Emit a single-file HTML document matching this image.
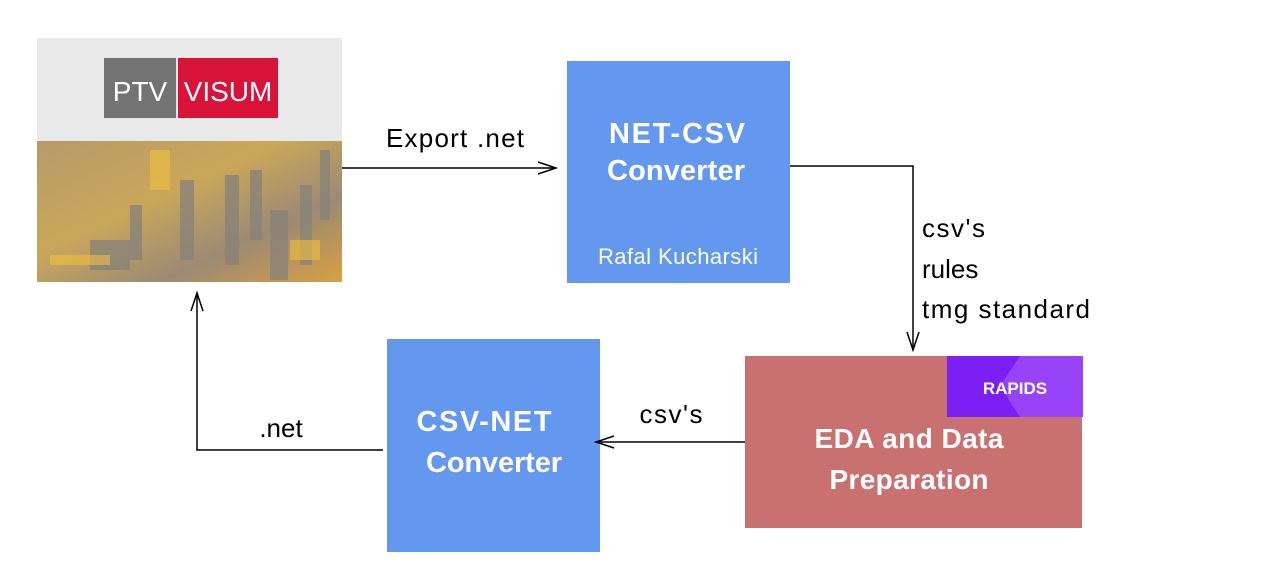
<!DOCTYPE html>
<html><head><style>
html,body{margin:0;padding:0;background:#fff;}
svg{display:block;}
text{font-family:"Liberation Sans",sans-serif;}
</style></head><body>
<svg width="1280" height="584" viewBox="0 0 1280 584" xmlns="http://www.w3.org/2000/svg">
<defs>
<linearGradient id="city" x1="0" y1="0" x2="1" y2="1">
<stop offset="0" stop-color="#b89a6a"/><stop offset="0.4" stop-color="#c9a75a"/><stop offset="0.7" stop-color="#9c8a74"/><stop offset="1" stop-color="#d8a040"/>
</linearGradient>
</defs>
<rect x="37" y="38" width="305" height="103" fill="#e9e9e9"/>
<rect x="104" y="58" width="72" height="60" fill="#737373"/>
<rect x="178" y="58" width="100" height="60" fill="#d9123a"/>
<text x="140" y="101" font-size="28" fill="#fff" text-anchor="middle">PTV</text>
<text x="228" y="101" font-size="28" fill="#fff" text-anchor="middle">VISUM</text>
<rect x="37" y="141" width="305" height="141" fill="url(#city)"/>
<g fill="#8a8378" opacity="0.8">
<rect x="180" y="180" width="14" height="80"/><rect x="225" y="175" width="14" height="90"/><rect x="250" y="170" width="12" height="70"/>
<rect x="270" y="210" width="18" height="70"/><rect x="300" y="185" width="12" height="80"/><rect x="320" y="150" width="10" height="70"/>
<rect x="130" y="205" width="12" height="55"/><rect x="90" y="240" width="40" height="30"/>
</g>
<g fill="#f0c040" opacity="0.6">
<rect x="50" y="255" width="60" height="10"/><rect x="150" y="150" width="20" height="40"/><rect x="290" y="240" width="30" height="20"/>
</g>
<rect x="567" y="61" width="223" height="222" fill="#6497ee"/>
<text x="677" y="143" font-size="29" font-weight="bold" fill="#fff" text-anchor="middle" textLength="136">NET-CSV</text>
<text x="676" y="180" font-size="29" font-weight="bold" fill="#fff" text-anchor="middle" textLength="138">Converter</text>
<text x="678" y="264" font-size="22" fill="#fff" text-anchor="middle" textLength="160">Rafal Kucharski</text>
<rect x="387" y="339" width="213" height="213" fill="#6497ee"/>
<text x="484" y="431" font-size="29" font-weight="bold" fill="#fff" text-anchor="middle" textLength="135">CSV-NET</text>
<text x="494" y="472" font-size="29" font-weight="bold" fill="#fff" text-anchor="middle" textLength="136">Converter</text>
<rect x="745" y="356" width="337" height="172" fill="#c87170"/>
<rect x="947" y="356" width="136" height="61" fill="#7b1ff5"/>
<polygon points="1020,356 1083,356 1083,417 1020,417 1000,386" fill="#9744f8"/>
<text x="1015" y="394" font-size="17" font-weight="bold" fill="#fff" text-anchor="middle">RAPIDS</text>
<text x="909" y="448" font-size="28" font-weight="bold" fill="#fff" text-anchor="middle" textLength="189">EDA and Data</text>
<text x="909" y="489" font-size="28" font-weight="bold" fill="#fff" text-anchor="middle" textLength="159">Preparation</text>
<g stroke="#000" stroke-width="1.5" fill="none">
<line x1="342" y1="168" x2="556" y2="168"/>
<polyline points="538,162 556,168 538,174"/>
<polyline points="790,166 913,166 913,350"/>
<polyline points="907,332 913,350 919,332"/>
<line x1="745" y1="442" x2="596" y2="442"/>
<polyline points="614,436 596,442 614,448"/>
<polyline points="383,450 197,450 197,293"/>
<polyline points="191,311 197,293 203,311"/>
</g>
<text x="455" y="147" font-size="26" fill="#000" text-anchor="middle" textLength="138">Export .net</text>
<text x="922" y="237" font-size="26" fill="#000" textLength="63">csv's</text>
<text x="922" y="278" font-size="26" fill="#000">rules</text>
<text x="922" y="318" font-size="26" fill="#000" textLength="168">tmg standard</text>
<text x="671" y="423" font-size="26" fill="#000" text-anchor="middle" textLength="63">csv's</text>
<text x="281" y="437" font-size="26" fill="#000" text-anchor="middle">.net</text>
</svg>
</body></html>
